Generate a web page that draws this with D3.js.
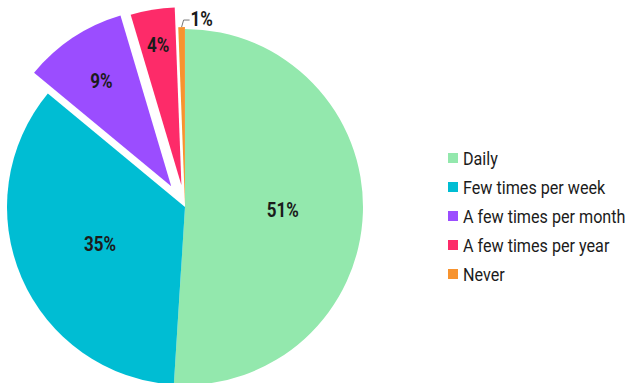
<!DOCTYPE html>
<html>
<head>
<meta charset="utf-8">
<script src="https://cdn.jsdelivr.net/npm/d3@7"></script>
<style>
  body { margin: 0; background: #fff; }
  text { font-family: Roboto, 'Liberation Sans', sans-serif; fill: #1b1b1b; }
</style>
</head>
<body>
<div id="chart"></div>
<script>
// data
var categories = ["Daily", "Few times per week", "A few times per month", "A few times per year", "Never"];
var shares = [51, 35, 9.4, 4, 0.6];
var colors = ["#93e8ad", "#00bdd3", "#9b4dff", "#fd2b69", "#f7932f"];
var explode = [0, 0, 25, 22, 2];
var labelPos = [0.55, 0.52, 0.71, 0.8, 0];

var width = 630, height = 383;
var cx = 185, cy = 207, radius = 178;
var squeeze = 0.85; // condensed look

var svg = d3.select("#chart").append("svg")
    .attr("width", width)
    .attr("height", height);

var pie = d3.pie().sort(null).value(function (d) { return d; });
var arcs = pie(shares);

var arc = d3.arc().innerRadius(0).outerRadius(radius);

var g = svg.append("g")
    .attr("transform", "translate(" + cx + "," + cy + ")");

// slices, pulled out along their mid angle
g.selectAll(".slice")
    .data(arcs)
    .enter().append("path")
    .attr("class", "slice")
    .attr("d", arc)
    .attr("fill", function (d, i) { return colors[i]; })
    .attr("transform", function (d, i) {
        var a = (d.startAngle + d.endAngle) / 2;
        return "translate(" + (Math.sin(a) * explode[i]) + "," + (-Math.cos(a) * explode[i]) + ")";
    });

function label(parent, x, y, txt, anchor) {
    parent.append("g")
        .attr("transform", "translate(" + x + "," + y + ") scale(" + squeeze + ",1)")
        .append("text")
        .attr("dy", "0.36em")
        .attr("text-anchor", anchor)
        .style("font-size", "20px")
        .style("font-weight", "bold")
        .text(txt);
}

// labels inside the slices
arcs.forEach(function (d, i) {
    var a = (d.startAngle + d.endAngle) / 2;
    var txt = Math.round(shares[i]) + "%";
    if (labelPos[i] > 0) {
        var r = radius * labelPos[i] + explode[i];
        label(g, Math.sin(a) * r, -Math.cos(a) * r, txt, "middle");
    } else {
        // tiny slice: label outside with a leader line
        var r0 = radius + explode[i];
        var x0 = Math.sin(a) * r0, y0 = -Math.cos(a) * r0;
        var x1 = x0 + 2, y1 = y0 - 7;
        g.append("path")
            .attr("d", "M" + x0 + "," + y0 + "L" + x1 + "," + y1 + "L" + (x1 + 6) + "," + y1)
            .attr("fill", "none")
            .attr("stroke", "#777")
            .attr("stroke-width", 1);
        label(g, x1 + 7, y1 - 1, txt, "start");
    }
});

// legend
var legend = svg.append("g")
    .attr("transform", "translate(448,158)");

var row = legend.selectAll(".row")
    .data(categories)
    .enter().append("g")
    .attr("class", "row")
    .attr("transform", function (d, i) { return "translate(0," + (i * 29) + ")"; });

row.append("rect")
    .attr("x", 0)
    .attr("y", -5)
    .attr("width", 10)
    .attr("height", 10)
    .attr("fill", function (d, i) { return colors[i]; });

row.append("g")
    .attr("transform", "translate(15,0) scale(" + squeeze + ",1)")
    .append("text")
    .attr("dy", "0.36em")
    .style("font-size", "19px")
    .text(function (d) { return d; });
</script>
</body>
</html>
